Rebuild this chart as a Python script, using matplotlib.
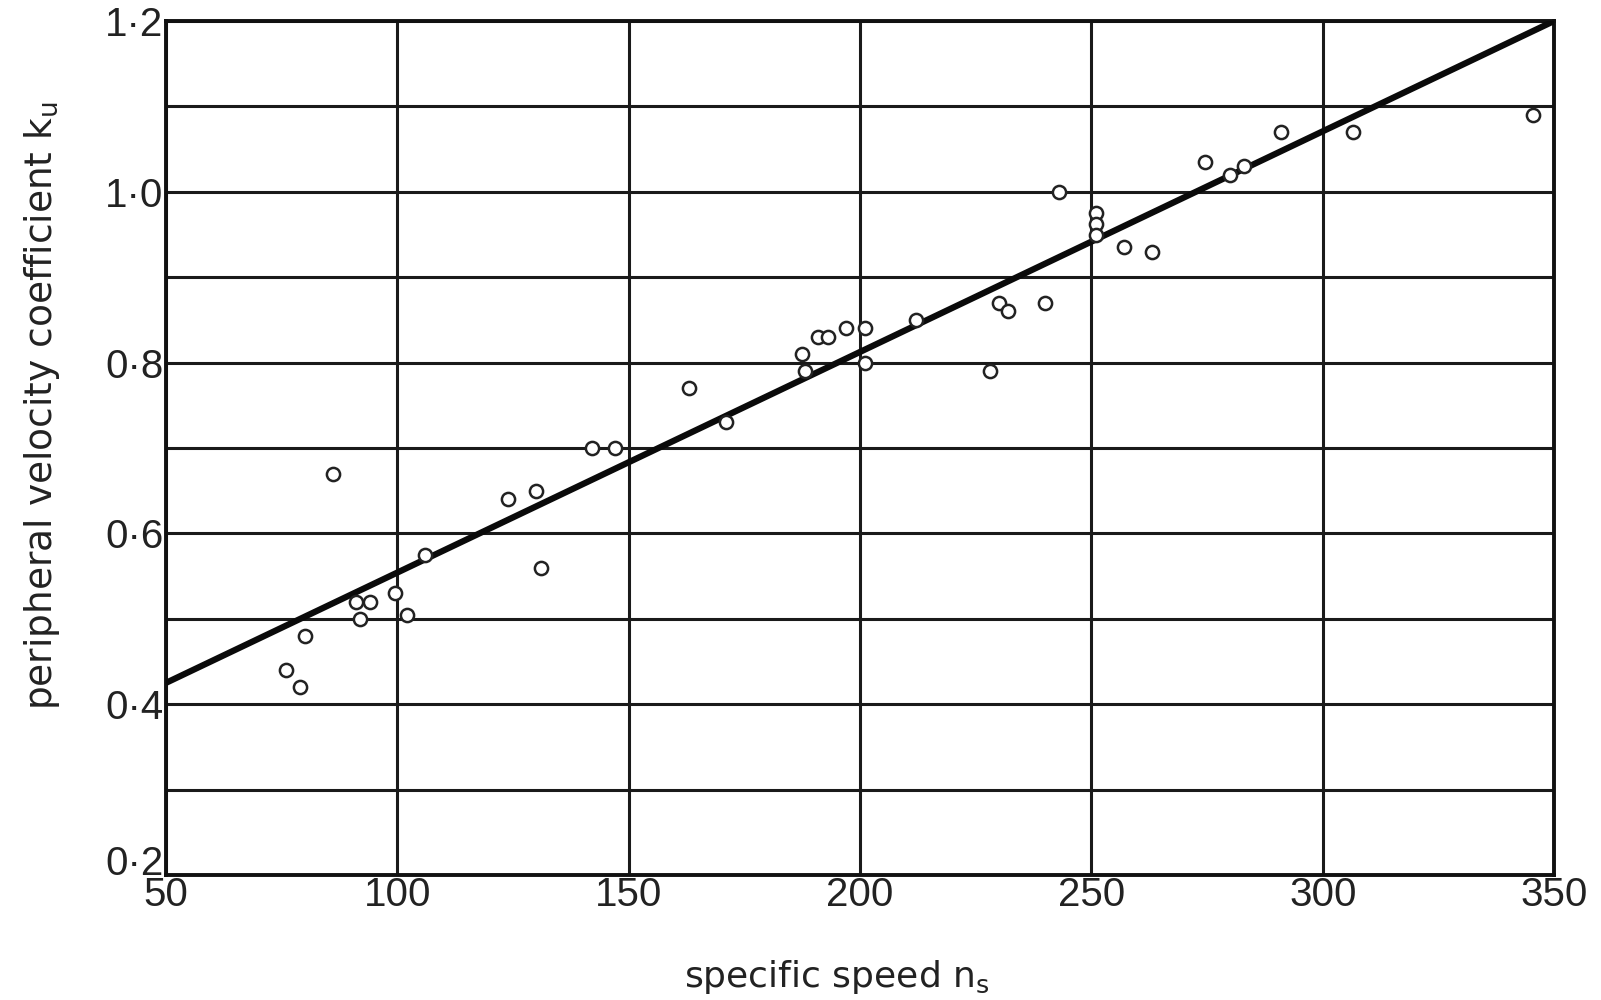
import matplotlib
matplotlib.use("Agg")
import matplotlib.pyplot as plt
import numpy as np
from matplotlib.ticker import MultipleLocator, FuncFormatter

# ---- data ----
ns = [76, 79, 80, 86, 91, 92, 94, 99.5, 102, 106, 124, 130, 131, 142, 147,
      163, 171, 187.5, 188, 191, 193, 197, 201, 201, 212, 228, 230, 232, 240,
      243, 251, 251, 251, 257, 263, 274.5, 280, 283, 291, 306.5, 345.5]
ku = [0.44, 0.42, 0.48, 0.67, 0.52, 0.50, 0.52, 0.53, 0.505, 0.575, 0.64, 0.65,
      0.56, 0.70, 0.70, 0.77, 0.73, 0.81, 0.79, 0.83, 0.83, 0.84, 0.84, 0.80,
      0.85, 0.79, 0.87, 0.86, 0.87, 1.00, 0.975, 0.962, 0.95, 0.935, 0.93,
      1.035, 1.02, 1.03, 1.07, 1.07, 1.09]
fit_ns = [50, 350]
fit_ku = [0.425, 1.20]

xticks = [50, 100, 150, 200, 250, 300, 350]
yticks = [0.2, 0.4, 0.6, 0.8, 1.0, 1.2]

plt.rcParams['font.family'] = ['Liberation Sans', 'DejaVu Sans']
plt.rcParams['mathtext.fontset'] = 'dejavusans'

fig = plt.figure(figsize=(16.01, 10.0), dpi=100)
ax = fig.add_axes([0.1037, 0.125, 0.867, 0.854])

ax.set_xlim(50, 350)
ax.set_ylim(0.2, 1.2)
ax.set_xticks(xticks)
ax.set_yticks(yticks)
ax.yaxis.set_minor_locator(MultipleLocator(0.1))
ax.xaxis.set_major_formatter(FuncFormatter(lambda v, p: f"{v:.0f}"))
ax.yaxis.set_major_formatter(FuncFormatter(lambda v, p: f"{v:.1f}".replace('.', '\u00b7')))

ax.grid(True, which='both', color='#1a1a1a', linewidth=2.2)
ax.set_axisbelow(True)
for s in ax.spines.values():
    s.set_linewidth(2.8)
    s.set_color('#111111')

ax.tick_params(which='both', length=0)
ax.tick_params(axis='x', labelsize=29, pad=1, colors='#222222')
ax.tick_params(axis='y', labelsize=29, pad=2, colors='#222222')

ax.plot(fit_ns, fit_ku, color='#0a0a0a', linewidth=4.5, solid_capstyle='butt', zorder=3)
ax.plot(ns, ku, linestyle='none', marker='o', markersize=9.5,
        markerfacecolor='white', markeredgecolor='#222222', markeredgewidth=1.8, zorder=4)

ax.set_xlabel(r"specific speed n$_\mathregular{s}$", fontsize=26, color='#222222',
              family='DejaVu Sans')
ax.set_ylabel(r"peripheral velocity coefficient k$_\mathregular{u}$", fontsize=27,
              color='#222222', family='DejaVu Sans')
ax.xaxis.set_label_coords(0.483, -0.097)
ax.yaxis.set_label_coords(-0.075, 0.55)

fig.canvas.draw()
ylabels = ax.get_yticklabels()
ylabels[0].set_verticalalignment('baseline')

fig.savefig("out.png", dpi=100, facecolor='white')
